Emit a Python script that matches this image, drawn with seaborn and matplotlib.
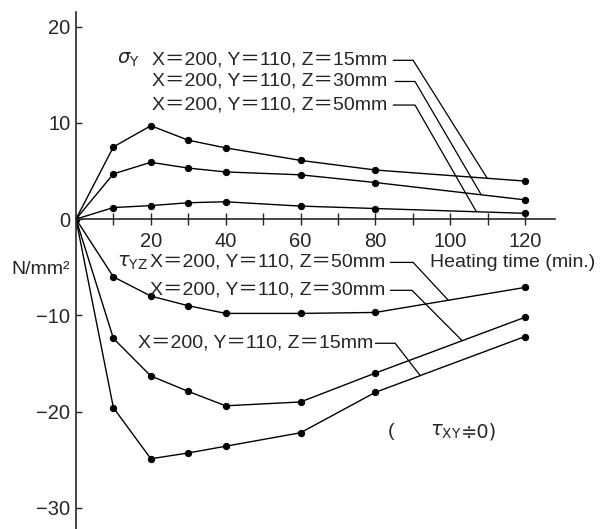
import numpy as np
import pandas as pd
import matplotlib
matplotlib.use("Agg")
import matplotlib.pyplot as plt
import seaborn as sns

# heating time (min.) and stresses (N/mm2)
time = [0, 10, 20, 30, 40, 60, 80, 120]
sigma_z15 = [0, 7.5, 9.7, 8.2, 7.4, 6.1, 5.1, 3.95]
sigma_z30 = [0, 4.7, 5.9, 5.3, 4.9, 4.6, 3.8, 2.0]
sigma_z50 = [0, 1.2, 1.4, 1.7, 1.8, 1.35, 1.1, 0.6]
tau_z50 = [0, -6.0, -8.0, -9.0, -9.8, -9.8, -9.7, -7.1]
tau_z30 = [0, -12.4, -16.3, -17.9, -19.4, -19.0, -16.0, -10.2]
tau_z15 = [0, -19.6, -24.9, -24.3, -23.6, -22.2, -18.0, -12.2]

sigma_labels = ["X＝200, Y＝110, Z＝15mm", "X＝200, Y＝110, Z＝30mm", "X＝200, Y＝110, Z＝50mm"]
tau_labels = ["X＝200, Y＝110, Z＝50mm", "X＝200, Y＝110, Z＝30mm", "X＝200, Y＝110, Z＝15mm"]
x_ticks = [10, 20, 30, 40, 50, 60, 70, 80, 90, 100, 110, 120]
y_ticks = [-30, -20, -10, 0, 10, 20]

sns.set_style("ticks")
plt.rcParams['font.family'] = ['Liberation Sans', 'Noto Sans CJK JP', 'DejaVu Sans']
plt.rcParams['mathtext.fontset'] = 'dejavusans'

fig = plt.figure(figsize=(6.04, 5.29), dpi=100)
ax = fig.add_axes([0.1258, 0.0, 0.793, 0.977])

series = [sigma_z15, sigma_z30, sigma_z50, tau_z50, tau_z30, tau_z15]
for s in series:
    sns.lineplot(x=time, y=s, ax=ax, color="black", lw=1.0, marker="o",
                 markersize=4.5, markeredgecolor="black")

ax.set_xlim(0, 128)
ax.set_ylim(-32.2, 21.5)
ax.spines['left'].set_position(('data', 0))
ax.spines['bottom'].set_position(('data', 0))
ax.spines['top'].set_visible(False)
ax.spines['right'].set_visible(False)
ax.spines['left'].set_linewidth(1.2)
ax.spines['bottom'].set_linewidth(1.2)

ax.set_xticks(x_ticks)
ax.set_xticklabels([str(t) if t % 20 == 0 else "" for t in x_ticks], fontsize=14.5)
ax.tick_params(axis='x', direction='inout', length=8, width=1, pad=5)
ax.set_yticks(y_ticks)
ax.set_yticklabels([str(t).replace("-", "−") for t in y_ticks], fontsize=14.5)
ax.tick_params(axis='y', direction='in', length=4, width=1, pad=4)

fs = 14
# sigma_Y annotations
ax.text(11, 16.5, r"$\sigma_{\rm Y}$", fontsize=fs, va='center', ha='left')
sig_rows = [16.5, 14.3, 11.85]
sig_leaders = [(84.8, 90.1, 109.9), (85.3, 90.6, 108.3), (84.8, 90.6, 107.0)]
for lab, yy, (x0, x1, x2), s in zip(sigma_labels, sig_rows, sig_leaders,
                                    [sigma_z15, sigma_z30, sigma_z50]):
    ax.text(20.3, yy, lab, fontsize=fs, va='center', ha='left')
    ax.plot([x0, x1, x2], [yy, yy, np.interp(x2, time, s)], color="black", lw=0.9)

# tau_YZ annotations
ax.text(11, -4.5, r"$\tau_{\rm YZ}$", fontsize=fs, va='center', ha='left')
tau_rows = [-4.5, -7.4, -12.9]
tau_x = [19.8, 19.8, 16.6]
tau_leaders = [(84.0, 90.1, 99.5), (84.0, 89.8, 103.2), (80.0, 85.3, 92.0)]
for lab, yy, xs, (x0, x1, x2), s in zip(tau_labels, tau_rows, tau_x, tau_leaders,
                                        [tau_z50, tau_z30, tau_z15]):
    ax.text(xs, yy, lab, fontsize=fs, va='center', ha='left')
    ax.plot([x0, x1, x2], [yy, yy, np.interp(x2, time, s)], color="black", lw=0.9)

ax.text(94.7, -4.5, "Heating time (min.)", fontsize=fs, va='center', ha='left')
ax.text(-1.5, -5.2, "N/mm²", fontsize=fs, va='center', ha='right')
ax.text(83.2, -22.1, "(", fontsize=fs, va='center', ha='left')
ax.text(94.7, -22.1, r"$\tau_{\rm XY}$", fontsize=fs, va='center', ha='left')
ax.text(103.0, -22.1, "≑0)", fontsize=fs, va='center', ha='left',
        family=['DejaVu Sans', 'Noto Sans CJK JP'])

fig.savefig("out.png", dpi=100)
